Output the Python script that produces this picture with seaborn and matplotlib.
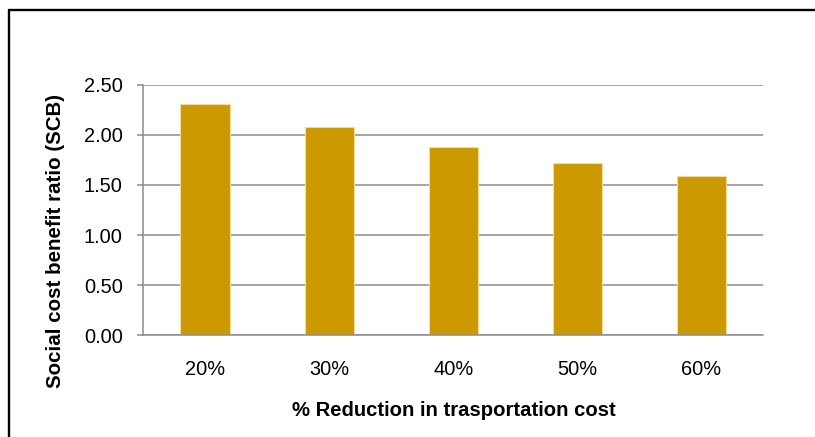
import matplotlib
matplotlib.use("Agg")
import matplotlib.pyplot as plt
from matplotlib.lines import Line2D
import seaborn as sns

# Social cost benefit ratio for each transport cost reduction scenario
categories = ["20%", "30%", "40%", "50%", "60%"]
scb_values = [2.31, 2.08, 1.88, 1.72, 1.59]
y_ticks = [0.0, 0.5, 1.0, 1.5, 2.0, 2.5]
y_tick_labels = ["0.00", "0.50", "1.00", "1.50", "2.00", "2.50"]

sns.set_theme(style="white")
plt.rcParams["font.family"] = ["Liberation Sans", "DejaVu Sans"]

fig = plt.figure(figsize=(8.15, 4.37), dpi=100)
ax = fig.add_axes([0.1758, 0.2334, 0.7610, 0.5721])

sns.barplot(x=categories, y=scb_values, color="#CC9900", saturation=1,
            width=0.4, edgecolor="#F3DC9A", linewidth=0.8, ax=ax)

ax.set_ylim(0, 2.5)
ax.set_yticks(y_ticks)
ax.set_yticklabels(y_tick_labels)
ax.set_axisbelow(True)
ax.yaxis.grid(True, color="#8C8C8C", linewidth=1.1)
ax.xaxis.grid(False)

for side in ("top", "right"):
    ax.spines[side].set_visible(False)
for side in ("left", "bottom"):
    ax.spines[side].set_color("#8C8C8C")
    ax.spines[side].set_linewidth(1.1)

ax.tick_params(axis="y", which="major", left=True, length=4.3, width=1.1,
               color="#8C8C8C", pad=10.5, labelsize=14.4, labelcolor="black")
ax.tick_params(axis="x", which="major", bottom=False, length=0, pad=18,
               labelsize=14.4, labelcolor="black")

ax.set_xlabel("% Reduction in trasportation cost", fontsize=14.6,
              fontweight="bold", color="black")
ax.set_ylabel("Social cost benefit ratio (SCB)", fontsize=14.8,
              fontweight="bold", color="black")
ax.xaxis.set_label_coords(0.5, -0.263)
ax.yaxis.set_label_coords(-0.127, 0.376)

# Outer frame around the chart area (top and left edges)
W, H = 815, 437
fig.add_artist(Line2D([8.5 / W, 1.0], [1 - 10 / H, 1 - 10 / H],
                      transform=fig.transFigure, color="black", linewidth=1.7))
fig.add_artist(Line2D([8.5 / W, 8.5 / W], [0.0, 1 - 10 / H],
                      transform=fig.transFigure, color="black", linewidth=1.7))

fig.savefig("out.png", dpi=100, facecolor="white")
